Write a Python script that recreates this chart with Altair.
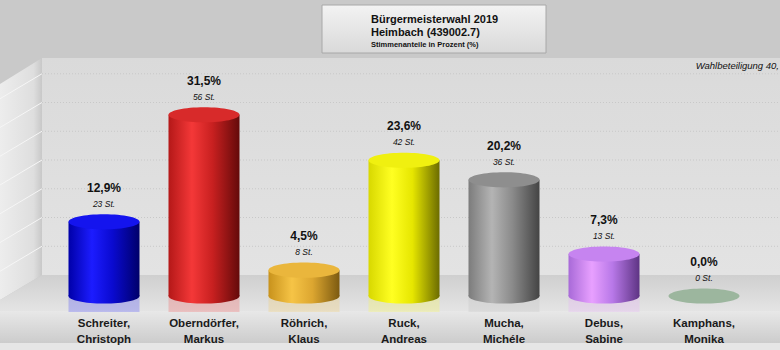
import altair as alt
import pandas as pd

# ---------------- data ----------------
names = ["Schreiter, Christoph", "Oberndörfer, Markus", "Röhrich, Klaus",
         "Ruck, Andreas", "Mucha, Michéle", "Debus, Sabine", "Kamphans, Monika"]
percent = [12.9, 31.5, 4.5, 23.6, 20.2, 7.3, 0.0]
votes = [23, 56, 8, 42, 36, 13, 0]
grid_values = [5, 10, 15, 20, 25, 30, 35]
title_lines = ["Bürgermeisterwahl 2019", "Heimbach (439002.7)"]
subtitle = "Stimmenanteile in Prozent (%)"
turnout = "Wahlbeteiligung 40,"

# ---------------- styles ----------------
side_colors = [
    ["#0000a8", "#1c1cff", "#0a0ad0", "#00006a"],
    ["#b41818", "#f43838", "#c82020", "#640a0a"],
    ["#c8921c", "#f6c446", "#dca630", "#7c5a10"],
    ["#d8d800", "#ffff22", "#e6e600", "#6c6c00"],
    ["#7c7c7c", "#b4b4b4", "#8a8a8a", "#444444"],
    ["#a86ad8", "#e8a0ff", "#b878e8", "#5e3484"],
    ["#94ae96", "#a8c2aa", "#98b29a", "#7a927c"],
]
top_colors = ["#1414ee", "#d82a2a", "#eab63c", "#f0f010", "#8e8e8e", "#c684f0", "#9cb69e"]
FONT = "Liberation Sans"

df = pd.DataFrame({"name": names, "pct": percent, "votes": votes})
df["label"] = df["name"].str.replace(", ", ",\n", regex=False)
df["pct_label"] = [f"{p:.1f}".replace(".", ",") + "%" for p in percent]
df["vote_label"] = [f"{v} St." for v in votes]
df["base"] = 0.0
df["refl"] = -2.8

grid_df = pd.DataFrame({"g": grid_values})
one = pd.DataFrame({"k": [0]})

yscale = alt.Scale(domain=[-9.391, 51.478], nice=False, zero=False)
xscale = alt.Scale(domain=names, range=[54, 754], paddingInner=0, paddingOuter=0)
X = alt.X("name:N", scale=xscale, axis=None)

ELLIPSE = "M-35.5,0A35.5,7.6,0,1,1,35.5,0A35.5,7.6,0,1,1,-35.5,0Z"


def hgrad(stops):
    return alt.LinearGradient(
        gradient="linear", x1=0, x2=1, y1=0, y2=0,
        stops=[alt.GradientStop(offset=o, color=c)
               for o, c in zip([0, 0.33, 0.62, 1], stops)])


def vgrad(c1, c2):
    return alt.LinearGradient(
        gradient="linear", x1=0, x2=0, y1=0, y2=1,
        stops=[alt.GradientStop(offset=0, color=c1), alt.GradientStop(offset=1, color=c2)])


def poly(path, fill):
    return alt.Chart(one).mark_point(
        shape=path, size=4, filled=True, fill=fill, strokeWidth=0, opacity=1
    ).encode(x=alt.value(0), y=alt.value(0))


def box(x1, x2, y1, y2, fill, **kw):
    return alt.Chart(one).mark_rect(fill=fill, **kw).encode(
        x=alt.value(x1), x2=alt.value(x2), y=alt.value(y1), y2=alt.value(y2))


def label(text, x, y, size, weight="normal", style="normal", align="left"):
    return alt.Chart(pd.DataFrame({"t": [text]})).mark_text(
        align=align, baseline="alphabetic", font=FONT, fontWeight=weight,
        fontStyle=style, fontSize=size, color="#111111"
    ).encode(x=alt.value(x), y=alt.value(y), text="t:N")


# ---------------- decorations ----------------
back_wall = box(42, 780, 58, 275, vgrad("#dadada", "#e3e3e3"))
left_wall = poly("M0,84L42,58L42,275L0,300Z",
                 alt.LinearGradient(gradient="linear", x1=0, x2=1, y1=0, y2=0,
                                    stops=[alt.GradientStop(offset=0, color="#ededed"),
                                           alt.GradientStop(offset=0.8, color="#dedede"),
                                           alt.GradientStop(offset=1, color="#c8c8c8")]))
floor = poly("M0,300L42,275L780,275L780,311L0,311Z", vgrad("#cfcfcf", "#e4e4e4"))
label_band = box(0, 780, 311, 343, vgrad("#e8e8e8", "#cccccc"))
bottom_strip = box(0, 780, 343, 350, "#e6e6e6")

wall_grid = alt.Chart(grid_df).mark_rule(
    color="#c8c8c8", strokeDash=[1, 2], strokeWidth=1, yOffset=-21, y2Offset=-21
).encode(x=alt.value(42), x2=alt.value(780),
         y=alt.Y("g:Q", scale=yscale, axis=None), y2="g:Q")
side_grid = alt.Chart(grid_df).mark_rule(
    color="#f6f6f6", strokeWidth=1, yOffset=4, y2Offset=-21
).encode(x=alt.value(0), x2=alt.value(42),
         y=alt.Y("g:Q", scale=yscale, axis=None), y2="g:Q")

title_box = box(322, 546, 5, 53, vgrad("#f3f3f3", "#d9d9d9"),
                stroke="#a8a8a8", strokeWidth=1)
title1 = label(title_lines[0], 371, 23, 11, weight="bold")
title2 = label(title_lines[1], 371, 36, 11, weight="bold")
title3 = label(subtitle, 371, 46.5, 7.5, weight="bold")
turnout_text = label(turnout, 779, 69, 9.5, style="italic", align="right")

# ---------------- cylinders ----------------
cyl_layers = []
for i, nm in enumerate(names):
    base = alt.Chart(df).transform_filter(alt.datum.name == nm)
    grad = hgrad(side_colors[i])
    if percent[i] > 0:
        cyl_layers.append(base.mark_bar(size=71, fill=side_colors[i][1], opacity=0.22).encode(
            x=X, y=alt.Y("base:Q", scale=yscale, axis=None), y2="refl:Q"))
        cyl_layers.append(base.mark_bar(size=71, fill=grad).encode(
            x=X, y=alt.Y("pct:Q", scale=yscale, axis=None), y2="base:Q"))
        cyl_layers.append(base.mark_point(shape=ELLIPSE, size=4, filled=True, fill=grad,
                                          strokeWidth=0, opacity=1).encode(
            x=X, y=alt.Y("base:Q", scale=yscale, axis=None)))
    cyl_layers.append(base.mark_point(shape=ELLIPSE, size=4, filled=True, fill=top_colors[i],
                                      strokeWidth=0, opacity=1).encode(
        x=X, y=alt.Y("pct:Q", scale=yscale, axis=None)))

pct_text = alt.Chart(df).mark_text(
    font=FONT, fontWeight="bold", fontSize=12, color="#111111",
    baseline="alphabetic", dy=-30).encode(
    x=X, y=alt.Y("pct:Q", scale=yscale, axis=None), text="pct_label:N")
vote_text = alt.Chart(df).mark_text(
    font=FONT, fontStyle="italic", fontSize=8.5, color="#111111",
    baseline="alphabetic", dy=-15).encode(
    x=X, y=alt.Y("pct:Q", scale=yscale, axis=None), text="vote_label:N")
name_text = alt.Chart(df).mark_text(
    font=FONT, fontWeight="bold", fontSize=11.5, color="#1a1a1a",
    baseline="alphabetic", lineBreak="\n", lineHeight=16).encode(
    x=X, y=alt.value(327), text="label:N")

chart = alt.layer(
    back_wall, left_wall, wall_grid, side_grid, floor, label_band, bottom_strip,
    title_box, title1, title2, title3, turnout_text,
    *cyl_layers, pct_text, vote_text, name_text,
).properties(
    width=780, height=350, background="#c9c9c9",
    autosize=alt.AutoSizeParams(type="none"), padding=0,
).configure_view(stroke=None)

chart.save("out.html", embed_options={"renderer": "svg", "actions": False})
